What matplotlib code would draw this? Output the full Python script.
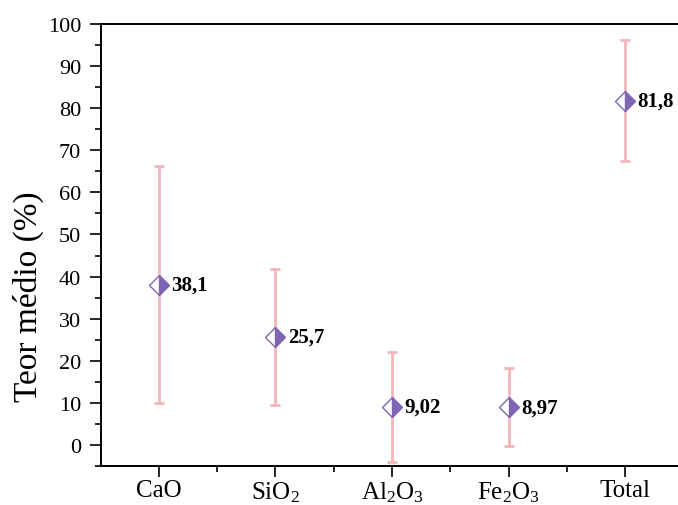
import numpy as np
import matplotlib
matplotlib.use('Agg')
import matplotlib.pyplot as plt

plt.rcParams['font.family'] = ['Liberation Serif', 'DejaVu Serif']
plt.rcParams['mathtext.fontset'] = 'custom'
plt.rcParams['mathtext.rm'] = 'Liberation Serif'
plt.rcParams['mathtext.it'] = 'Liberation Serif:italic'

# dados
categories = ['CaO', r'SiO$_2$', r'Al$_2$O$_3$', r'Fe$_2$O$_3$', 'Total']
means = [38.1, 25.7, 9.02, 8.97, 81.8]
errors = [28.2, 16.2, 13.1, 9.3, 14.4]
labels = ['38,1', '25,7', '9,02', '8,97', '81,8']

PURPLE = '#7D65B4'
PINK = '#F2B5BA'

fig = plt.figure(figsize=(6.78, 5.06), dpi=100)
ax = fig.add_axes([100.5 / 678, 39 / 506, 583 / 678, 442 / 506])

x = np.arange(1, len(categories) + 1)
ax.errorbar(x, means, yerr=errors, fmt='none', ecolor=PINK, elinewidth=2.0,
            capsize=3.6, capthick=2.0, zorder=2)
ax.plot(x, means, ls='none', marker='D', markersize=10.5, fillstyle='right',
        markerfacecolor=PURPLE, markerfacecoloralt='white',
        markeredgecolor=PURPLE, markeredgewidth=1.0, zorder=3)

for xi, yi, txt in zip(x, means, labels):
    ax.annotate(txt, (xi, yi), xytext=(9, 0), textcoords='offset points',
                ha='left', va='center', fontsize=15, fontweight='bold')

ax.set_xlim(0.5, 5.5)
ax.set_ylim(-5, 100)
ax.set_xticks(x)
ax.set_xticklabels(categories)
ax.set_xticks(np.arange(1.5, 5.5, 1), minor=True)
ax.set_yticks(np.arange(0, 101, 10))
ax.set_yticks(np.arange(-5, 100, 10), minor=True)
ax.tick_params(axis='both', which='major', direction='out', length=8, width=1.2,
               colors='black')
ax.tick_params(axis='y', which='major', labelsize=16, pad=6)
ax.tick_params(axis='x', which='major', labelsize=18, pad=1.5)
ax.tick_params(axis='both', which='minor', direction='out', length=4, width=1.2)
ax.set_ylabel('Teor médio (%)', fontsize=24)
ax.yaxis.set_label_coords(-0.097, 0.385)

for side in ['left', 'bottom', 'top']:
    ax.spines[side].set_linewidth(1.4)
ax.spines['right'].set_visible(False)

fig.savefig('out.png', dpi=100)
